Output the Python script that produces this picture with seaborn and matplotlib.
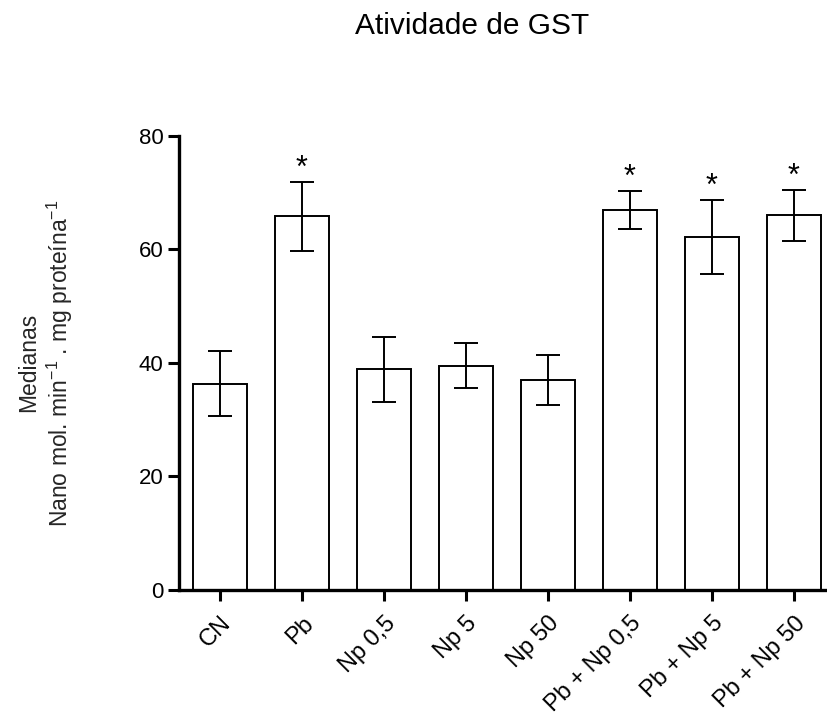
import matplotlib
matplotlib.use("Agg")
import matplotlib.pyplot as plt
import seaborn as sns
import pandas as pd
import numpy as np

categories = ["CN", "Pb", "Np 0,5", "Np 5", "Np 50", "Pb + Np 0,5", "Pb + Np 5", "Pb + Np 50"]
medians = [36.2, 65.8, 38.9, 39.5, 37.0, 66.9, 62.1, 66.0]
err_low = [5.6, 6.1, 5.8, 3.9, 4.4, 3.4, 6.5, 4.5]
err_high = [5.8, 6.1, 5.7, 4.0, 4.3, 3.3, 6.6, 4.4]
significant = [False, True, False, False, False, True, True, True]
yticks = [0, 20, 40, 60, 80]

sns.set_theme(style="ticks")
plt.rcParams["font.family"] = ["Liberation Sans", "DejaVu Sans"]
plt.rcParams["mathtext.fontset"] = "custom"
plt.rcParams["mathtext.rm"] = "Liberation Sans"
plt.rcParams["mathtext.it"] = "Liberation Sans"
plt.rcParams["mathtext.default"] = "regular"

df = pd.DataFrame({"grupo": categories, "mediana": medians})

fig = plt.figure(figsize=(8.27, 7.12), dpi=100)
ax = fig.add_axes([179 / 827, 1 - 590 / 712, 1 - 179 / 827, (590 - 135.7) / 712])

sns.barplot(data=df, x="grupo", y="mediana", ax=ax, color="white",
            edgecolor="black", linewidth=1.4, width=0.666, errorbar=None,
            saturation=1)
x = np.arange(len(categories))
ax.errorbar(x, medians, yerr=[err_low, err_high], fmt="none", ecolor="black",
            elinewidth=1.4, capsize=8.6, capthick=1.4)

for xi, m, eh, s in zip(x, medians, err_high, significant):
    if s:
        ax.text(xi, m + eh + 0.9, "*", ha="center", va="baseline",
                fontsize=22, color="black")

ax.set_ylim(0, 80)
ax.set_xlim(-0.5, (827 - 220) / 82)
ax.set_yticks(yticks)
ax.set_yticklabels([str(t) for t in yticks], fontsize=16)
ax.set_xticks(x)
ax.set_xticklabels(categories, rotation=45, ha="right", va="top",
                   rotation_mode="anchor", fontsize=17)
ax.tick_params(axis="x", pad=8)
ax.set_xlabel("")
ax.set_ylabel("Medianas\nNano mol. min$^{-1}$ . mg proteína$^{-1}$",
              fontsize=16.5, labelpad=46)

for side in ["top", "right"]:
    ax.spines[side].set_visible(False)
for side in ["left", "bottom"]:
    ax.spines[side].set_linewidth(2.4)
    ax.spines[side].set_color("black")
ax.tick_params(axis="both", direction="out", length=8, width=2.2,
               color="black", labelcolor="black")
ax.tick_params(axis="y", pad=3)

fig.text(472 / 827, 1 - 34.3 / 712, "Atividade de GST", ha="center",
         va="baseline", fontsize=21.5, color="black")

fig.savefig("out.png", dpi=100)
